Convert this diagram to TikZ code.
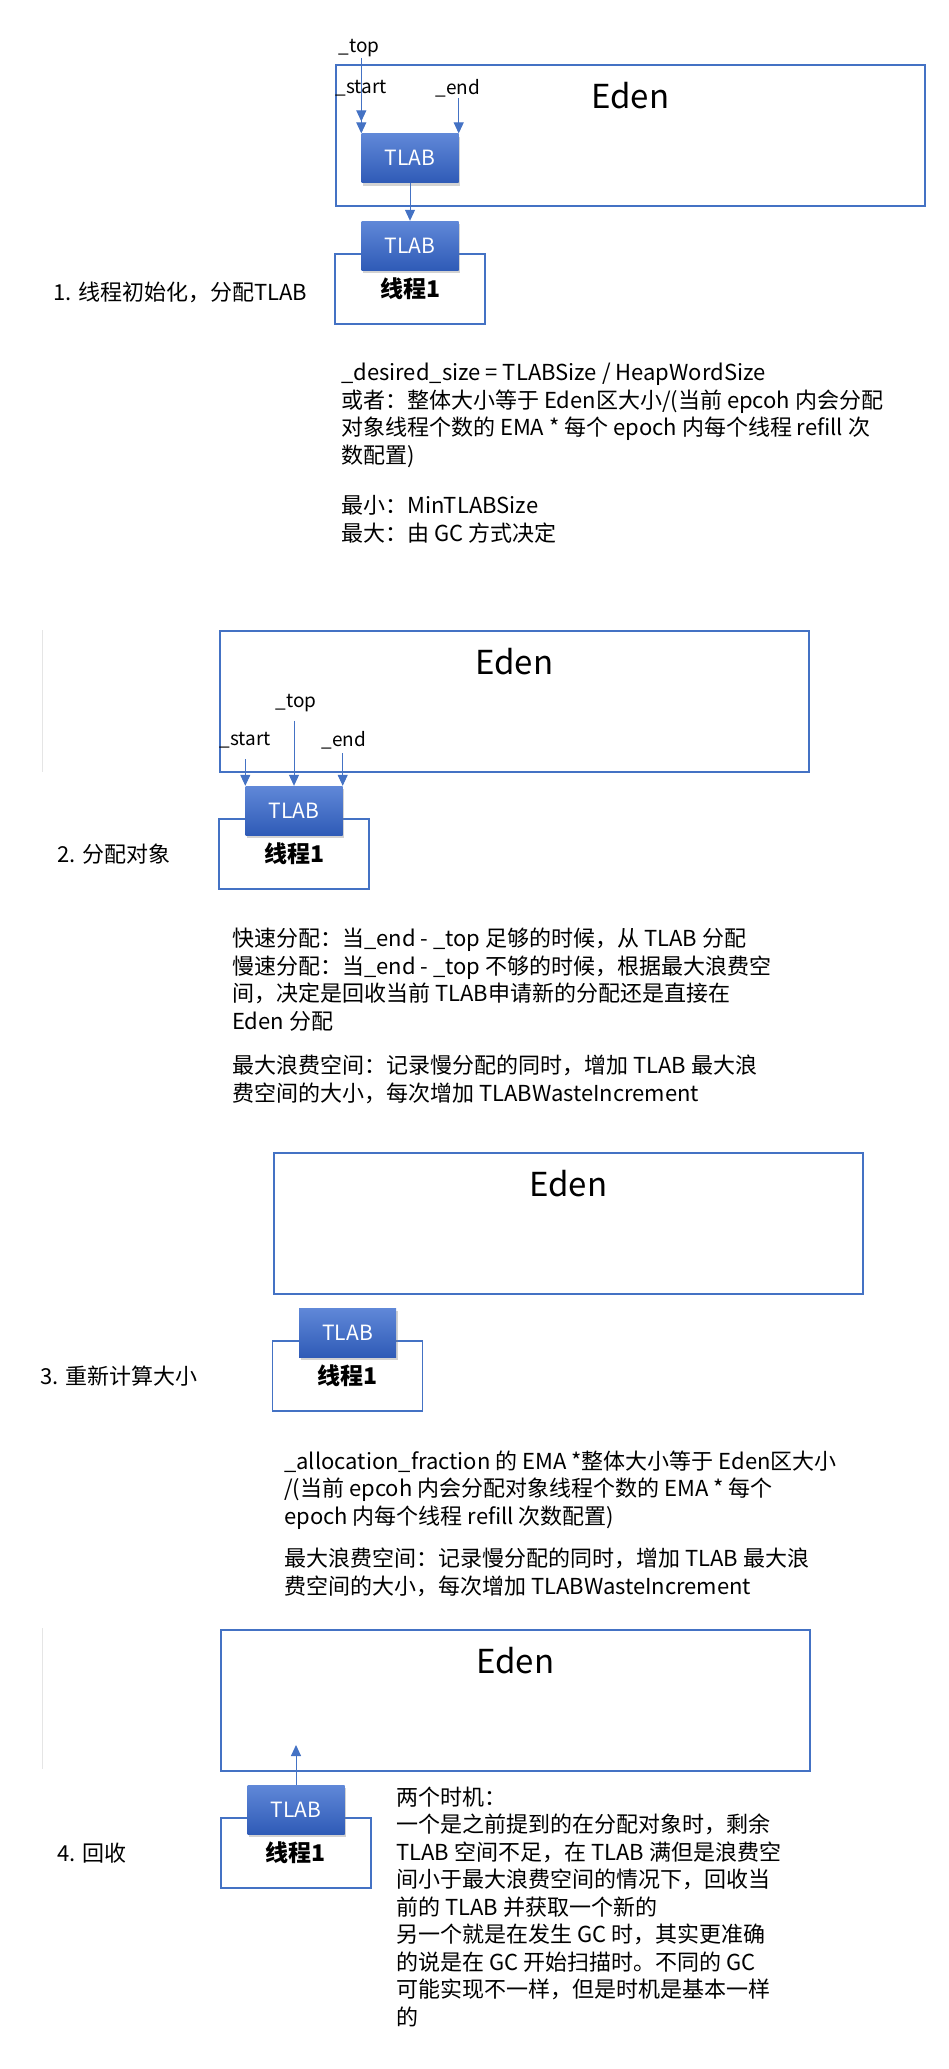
\documentclass[tikz,border=0pt]{standalone}
\usepackage{fontspec}
\setmainfont{Noto Sans CJK SC}
\usetikzlibrary{positioning,arrows.meta,shadows}
\definecolor{edenBlue}{HTML}{4472C4}
\definecolor{tlabTop}{HTML}{6088D8}
\definecolor{tlabBot}{HTML}{2F5BB7}

\begin{document}
\begin{tikzpicture}[x=1pt, y=-1pt,
        eden/.style={draw=edenBlue, line width=1.6pt, minimum width=589pt,
                     inner sep=0pt, anchor=north west,
                     font=\fontsize{33}{33}\selectfont,
                     text height=44pt, text depth=97pt},
        thread/.style={draw=edenBlue, line width=1.6pt, fill=white,
                       minimum width=150pt, minimum height=70pt, inner sep=0pt,
                       font=\fontsize{23}{23}\selectfont\bfseries},
        tlab/.style={top color=tlabTop, bottom color=tlabBot,
                     minimum width=97pt, minimum height=49pt, inner sep=0pt,
                     text=white, font=\fontsize{21}{21}\selectfont,
                     drop shadow={shadow xshift=1.5pt, shadow yshift=-3pt, opacity=0.35}},
        ptr/.style={-{Triangle[width=10pt,length=11pt]}, draw=edenBlue,
                    fill=edenBlue, line width=1pt},
        ptrlabel/.style={font=\fontsize{19}{19}\selectfont, inner sep=1pt},
        steplabel/.style={anchor=west, inner sep=0pt,
                          font=\fontsize{22}{22}\selectfont},
        % base = baseline of the last line
        note/.style={anchor=base west, align=left, inner sep=0pt,
                     font=\fontsize{22}{27.5}\selectfont},
        faint/.style={draw=gray!20, line width=1pt},
      ]
        \useasboundingbox (0,0) rectangle (948,2069);
        % 1. 初始化
        \node[eden] (eden1) at (335,64) {Eden};
        \node[thread] (th1) at (410,289) {线程1};
        \node[tlab, above=-17pt of th1] (tlab1) {TLAB};
        \node[tlab, above=38pt of tlab1] (tlab1a) {TLAB};
        \node[ptrlabel] (top1) at (359,48) {\_top};
        \node[ptrlabel] (start1) at (361,88) {\_start};
        \node[ptrlabel] (end1) at (458,88) {\_end};
        \draw[ptr, shorten >=12pt] (top1.south -| tlab1a.north west) -- (tlab1a.north west);
        \draw[ptr] (start1.south -| tlab1a.north west) -- (tlab1a.north west);
        \draw[ptr] (end1.south -| tlab1a.north east) -- (tlab1a.north east);
        \draw[ptr] (tlab1a) -- (tlab1);
        \node[steplabel] (step1) at (53,292) {1. 线程初始化，分配TLAB};
        \node[note] (note1) at (341,541)
          {\_desired\_size = TLABSize / HeapWordSize\\
           或者：整体大小等于 Eden区大小/(当前 epcoh 内会分配\\
           对象线程个数的 EMA * 每个 epoch 内每个线程 refill 次\\
           数配置)\\[23pt]
           最小：MinTLABSize\\
           最大：由 GC 方式决定};
        % 2. 分配对象
        \draw[faint] (42,630) -- (42,772);
        \node[eden] (eden2) at (219,630) {Eden};
        \node[thread] (th2) at (294,854) {线程1};
        \node[tlab, above=-17pt of th2] (tlab2) {TLAB};
        \node[ptrlabel] (top2) at (296,703) {\_top};
        \node[ptrlabel] (start2) at (245,740) {\_start};
        \node[ptrlabel] (end2) at (344,740) {\_end};
        \draw[ptr, shorten <=8pt] (top2.south -| tlab2.north) -- (tlab2.north);
        \draw[ptr, shorten <=10pt] (start2.south -| tlab2.north west) -- (tlab2.north west);
        \draw[ptr, shorten <=3pt] (end2.south -| tlab2.north east) -- (tlab2.north east);
        \node[steplabel] (step2) at (57,854) {2. 分配对象};
        \node[note] (note2) at (232,1101)
          {快速分配：当\_end - \_top 足够的时候，从 TLAB 分配\\
           慢速分配：当\_end - \_top 不够的时候，根据最大浪费空\\
           间，决定是回收当前 TLAB申请新的分配还是直接在\\
           Eden 分配\\[17pt]
           最大浪费空间：记录慢分配的同时，增加 TLAB 最大浪\\
           费空间的大小，每次增加 TLABWasteIncrement};
        % 3. 重新计算大小
        \node[eden] (eden3) at (273,1152) {Eden};
        \node[thread] (th3) at (347.5,1376) {线程1};
        \node[tlab, above=-17pt of th3] (tlab3) {TLAB};
        \node[steplabel] (step3) at (40,1376) {3. 重新计算大小};
        \node[note] (note3) at (284,1594)
          {\_allocation\_fraction 的 EMA *整体大小等于 Eden区大小\\
           /(当前 epcoh 内会分配对象线程个数的 EMA * 每个\\
           epoch 内每个线程 refill 次数配置)\\[15pt]
           最大浪费空间：记录慢分配的同时，增加 TLAB 最大浪\\
           费空间的大小，每次增加 TLABWasteIncrement};
        % 4. 回收
        \draw[faint] (42,1628) -- (42,1769);
        \node[eden] (eden4) at (220,1629) {Eden};
        \node[thread] (th4) at (296,1853) {线程1};
        \node[tlab, above=-17pt of th4] (tlab4) {TLAB};
        \coordinate (ret4) at (296,1745);
        \draw[ptr] (tlab4) -- (ret4);
        \node[steplabel] (step4) at (57,1853) {4. 回收};
        \node[note] (note4) at (396,2025)
          {两个时机：\\
           一个是之前提到的在分配对象时，剩余\\
           TLAB 空间不足，在 TLAB 满但是浪费空\\
           间小于最大浪费空间的情况下，回收当\\
           前的 TLAB 并获取一个新的\\
           另一个就是在发生 GC 时，其实更准确\\
           的说是在 GC 开始扫描时。不同的 GC\\
           可能实现不一样，但是时机是基本一样\\
           的};
      \end{tikzpicture}
\end{document}
